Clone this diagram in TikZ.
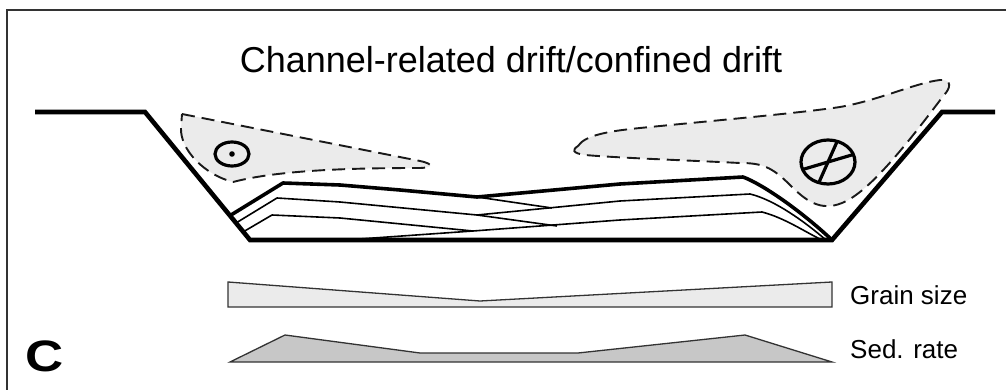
\documentclass[tikz,border=0pt]{standalone}
\usepackage{fontspec}
\setmainfont{Liberation Sans}
\usetikzlibrary{calc}
\begin{document}
\begin{tikzpicture}[x=1pt,y=-1pt,
  frameline/.style={draw=black!80,line width=1.6pt},
  bankline/.style={line width=4.6pt,line join=miter},
  layerthick/.style={line width=3.6pt,line join=round},
  layerthin/.style={line width=1.6pt,line join=round},
  driftzone/.style={fill=black!8,draw=black!90,line width=1.9pt,dash pattern=on 13pt off 7pt},
  flowsym/.style={line width=3.2pt},
  profile/.style={draw=black!80,line width=1.3pt,line join=miter},
  label/.style={inner sep=0pt,font=\fontsize{26}{30}\selectfont}]
\useasboundingbox (0,0) rectangle (1006,390);
\clip (0,0) rectangle (1006,390);

% panel frame
\draw[frameline] (7,400) -- (7,10) -- (1020,10);

% title
\node[inner sep=0pt,anchor=base,font=\fontsize{36}{40}\selectfont] (title) at (511,73) {Channel-related drift/confined drift};

% drift zones
\draw[driftzone] (182,114) -- (420,161) .. controls (434,164) and (434,168) .. (418,168)
  .. controls (340,168) and (275,171) .. (233,182)
  .. controls (205,175) and (180,150) .. (181,128) -- cycle;
\draw[driftzone] (578,146) .. controls (585,135) and (610,131) .. (640,128)
  .. controls (720,120) and (800,113) .. (840,107)
  .. controls (880,100) and (915,83) .. (940,80)
  .. controls (952,79) and (951,88) .. (944,95)
  .. controls (910,140) and (870,192) .. (842,203)
  .. controls (820,212) and (805,200) .. (790,185)
  .. controls (772,167) and (762,163) .. (740,163)
  .. controls (680,160) and (620,158) .. (585,155)
  .. controls (572,153) and (572,150) .. (578,146) -- cycle;

% flow symbols: out of page (left) and into page (right)
\draw[flowsym] (232,154) ellipse [x radius=17, y radius=12];
\fill (232,154) circle [radius=2.8];
\coordinate (into) at (828,162);
\draw[flowsym] (into) ellipse [x radius=27, y radius=22];
\draw[flowsym] ($(into)+(25.4,-7.5)$) -- ($(into)+(-25.4,7.5)$);
\draw[flowsym] ($(into)+(9.2,-20.7)$) -- ($(into)+(-9.2,20.7)$);

% channel fill: interfingering bank-attached lenses
\draw[layerthick] (231,215) -- (283,183) -- (340,185) -- (400,190) -- (477,197)
  -- (620,184) -- (743,177) .. controls (762,184) and (800,210) .. (832,240);
\draw[layerthin] (477,197) -- (552,208);
\draw[layerthin] (236,223) -- (277,198) -- (340,202) -- (477,215) -- (557,226);
\draw[layerthin] (477,215) -- (620,201) -- (750,194) .. controls (775,200) and (805,222) .. (826,240);
\draw[layerthin] (243,232) -- (272,215) -- (340,218) -- (473,231);
\draw[layerthin] (345,240) -- (473,231) -- (620,220) -- (762,212) .. controls (785,218) and (805,232) .. (822,240);

% channel outline
\draw[bankline] (35,112) -- (145,112) -- (250,240) -- (832,240) -- (942,112) -- (995,112);

% grain size and sedimentation rate profiles
\filldraw[profile,fill=black!8] (228,282) -- (480,301) -- (832,282) -- (832,307) -- (228,307) -- cycle;
\filldraw[profile,fill=black!22] (230,362) -- (285,335) -- (420,353) -- (578,353) -- (745,335) -- (832,362) -- cycle;
\node[label,anchor=base west] (grain) at (850,304) {Grain size};
\node[label,anchor=base west] (sedrate) at (850,358) {Sed. rate};

% panel letter
\node[inner sep=0pt,anchor=base west,font=\bfseries\fontsize{44}{48}\selectfont,xscale=1.2] (panel) at (25,371) {C};
\end{tikzpicture}
\end{document}
